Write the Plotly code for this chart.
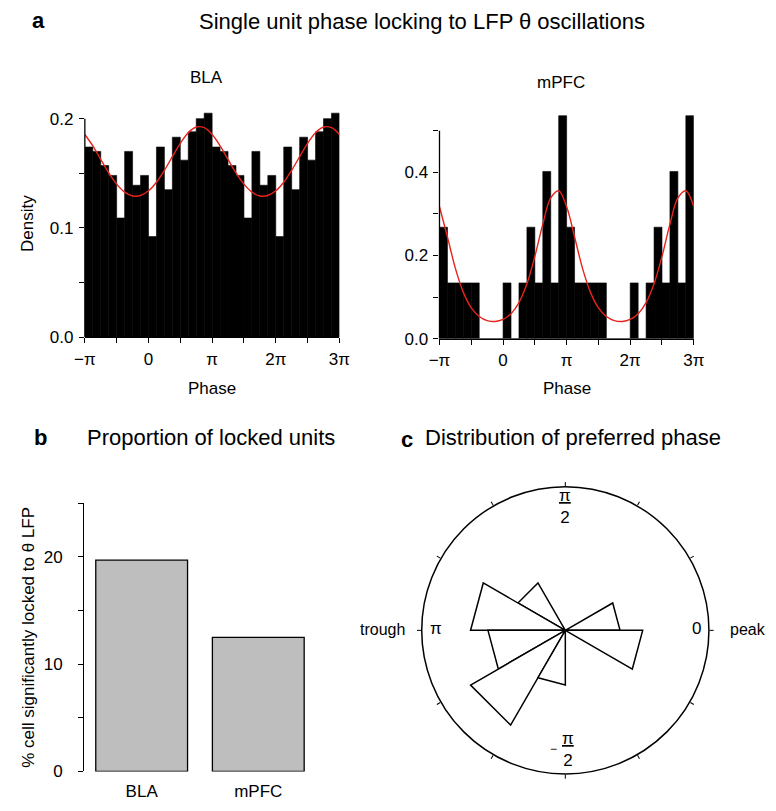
import numpy as np
import plotly.graph_objects as go

PI = np.pi
W, H = 776, 811

# ---------------- data ----------------
# panel a: phase histograms, one cycle of 16 bins (width pi/8) from -pi to pi
bla_density = [0.174, 0.170, 0.157, 0.148, 0.109, 0.170, 0.139, 0.148,
               0.092, 0.174, 0.135, 0.183, 0.162, 0.188, 0.200, 0.205]
mpfc_density = [0.268, 0.134, 0.134, 0.134, 0.134, 0.0, 0.0, 0.0,
                0.134, 0.0, 0.134, 0.268, 0.134, 0.402, 0.134, 0.536]
# fitted curves read every pi/8 starting at -pi (one cycle)
bla_fit = [0.1855, 0.1751, 0.1626, 0.1503, 0.1400, 0.1327, 0.1292, 0.1296,
           0.1339, 0.1418, 0.1527, 0.1652, 0.1774, 0.1871, 0.1923, 0.1917]
mpfc_fit = [0.3171, 0.2443, 0.1691, 0.1113, 0.0742, 0.0533, 0.0434, 0.0413,
            0.0463, 0.0601, 0.0868, 0.1319, 0.1978, 0.2754, 0.3384, 0.3556]
phase_tick_text = ["\u2212\u03c0", "", "0", "", "\u03c0", "", "2\u03c0", "", "3\u03c0"]
bla_ytick_vals = [0.0, 0.05, 0.1, 0.15, 0.2]
bla_ytick_text = ["0.0", "", "0.1", "", "0.2"]
mpfc_ytick_vals = [0.0, 0.1, 0.2, 0.3, 0.4, 0.5]
mpfc_ytick_text = ["0.0", "", "0.2", "", "0.4", ""]

# panel b: proportion of locked units
regions = ["BLA", "mPFC"]
pct_locked = [19.7, 12.5]
b_ytick_vals = [0, 5, 10, 15, 20, 25]
b_ytick_text = ["0", "", "10", "", "20", ""]

# panel c: preferred phase rose (30 degree bins starting at 0 deg)
pref_bin_start_deg = [0, 30, 60, 90, 120, 150, 180, 210, 240, 270, 300, 330]
pref_counts = [1, 0, 0, 0, 1, 3, 2, 4, 1, 0, 0, 2]

# ---------------- derived positions ----------------
bw = PI / 8
n_cycles = 2
n_bins = len(bla_density) * n_cycles
bin_centers = [-PI + (i + 0.5) * bw for i in range(n_bins)]
curve_x = [-PI + k * bw for k in range(n_bins + 1)]
bla_bars = bla_density * n_cycles
mpfc_bars = mpfc_density * n_cycles
bla_curve = bla_fit * n_cycles + [bla_fit[0]]
mpfc_curve = mpfc_fit * n_cycles + [mpfc_fit[0]]
phase_tick_vals = [-PI + k * PI / 2 for k in range(len(phase_tick_text))]


def px(x):
    return x / W


def py(y):
    return 1 - y / H


FONT = "Liberation Sans, Arial, Helvetica, sans-serif"
LW = 1.3

fig = go.Figure()

# BLA histogram
fig.add_trace(go.Bar(x=bin_centers, y=bla_bars, width=bw,
                     marker=dict(color="black", line=dict(color="black", width=0.6)),
                     xaxis="x", yaxis="y", hoverinfo="skip"))
fig.add_trace(go.Scatter(x=curve_x, y=bla_curve, mode="lines",
                         line=dict(color="#e8231c", width=1.4, shape="spline"),
                         xaxis="x", yaxis="y", hoverinfo="skip"))
# mPFC histogram
fig.add_trace(go.Bar(x=bin_centers, y=mpfc_bars, width=bw,
                     marker=dict(color="black", line=dict(color="black", width=0.6)),
                     xaxis="x2", yaxis="y2", hoverinfo="skip"))
fig.add_trace(go.Scatter(x=curve_x, y=mpfc_curve, mode="lines",
                         line=dict(color="#e8231c", width=1.4, shape="spline"),
                         xaxis="x2", yaxis="y2", hoverinfo="skip"))
# panel b bars
fig.add_trace(go.Bar(x=regions, y=pct_locked, width=0.787,
                     marker=dict(color="#bebebe", line=dict(color="black", width=LW)),
                     xaxis="x3", yaxis="y3", hoverinfo="skip"))

# panel c rose wedges (sqrt scaling = area proportional)
for start, cnt in zip(pref_bin_start_deg, pref_counts):
    if cnt == 0:
        continue
    r = float(np.sqrt(cnt))
    fig.add_trace(go.Scatterpolar(
        r=[0, r, r, 0], theta=[start, start, start + 30, start + 30],
        mode="lines", fill="toself", fillcolor="white",
        line=dict(color="black", width=1.5), subplot="polar", hoverinfo="skip"))

hist_x_common = dict(range=[-PI, 3 * PI], tickvals=phase_tick_vals, ticktext=phase_tick_text,
                     showline=True, linecolor="black", linewidth=LW, ticks="outside",
                     ticklen=5, tickwidth=LW, tickcolor="black", showgrid=False,
                     zeroline=False, tickfont=dict(size=17, color="black"),
                     ticklabelstandoff=1, fixedrange=True)
y_common = dict(showline=False, ticks="outside", ticklen=5, tickwidth=LW,
                tickcolor="black", showgrid=False, zeroline=False,
                tickfont=dict(size=17, color="black"), ticklabelstandoff=2, fixedrange=True)

fig.update_layout(
    width=W, height=H, margin=dict(l=0, r=0, t=0, b=0),
    paper_bgcolor="white", plot_bgcolor="rgba(0,0,0,0)", showlegend=False,
    font=dict(family=FONT, color="black", size=17),
    xaxis=dict(domain=[px(76), px(338)], anchor="y", **hist_x_common),
    yaxis=dict(domain=[py(340.7), py(111.5)], anchor="x", range=[0, 0.207],
               tickvals=bla_ytick_vals, ticktext=bla_ytick_text, **y_common),
    xaxis2=dict(domain=[px(441), px(702.7)], anchor="y2", **hist_x_common),
    yaxis2=dict(domain=[py(342.3), py(112.5)], anchor="x2", range=[0, 0.545],
                tickvals=mpfc_ytick_vals, ticktext=mpfc_ytick_text, **y_common),
    xaxis3=dict(domain=[px(75.3), px(330)], anchor="y3", range=[-0.493, 1.629],
                showline=False, ticks="", showgrid=False, zeroline=False,
                tickfont=dict(size=17, color="black"), ticklabelstandoff=8, fixedrange=True),
    yaxis3=dict(domain=[py(781), py(509.3)], anchor="x3", range=[0, 25],
                tickvals=b_ytick_vals, ticktext=b_ytick_text,
                **{**y_common, "showline": True, "linecolor": "black", "linewidth": LW,
                   "ticklabelstandoff": 12}),
    polar=dict(
        domain=dict(x=[px(422.7), px(718.3)], y=[py(785.5), py(490.5)]),
        bgcolor="white",
        radialaxis=dict(visible=False, range=[0, 2.625]),
        angularaxis=dict(rotation=0, direction="counterclockwise", showgrid=False,
                         showline=True, linecolor="black", linewidth=1.5,
                         ticks="outside", ticklen=4, tickwidth=LW, tickcolor="black",
                         tick0=0, dtick=30, showticklabels=False),
    ),
)

# y axis lines that stop at the last tick (R style)
fig.add_shape(type="line", xref="x domain", x0=0, x1=0, yref="y",
              y0=bla_ytick_vals[0], y1=bla_ytick_vals[-1], line=dict(color="black", width=LW))
fig.add_shape(type="line", xref="x2 domain", x0=0, x1=0, yref="y2",
              y0=mpfc_ytick_vals[0], y1=mpfc_ytick_vals[-1], line=dict(color="black", width=LW))


def ann(text, x, y, size=17, xanchor="center", yanchor="middle", textangle=0, bold=False):
    if bold:
        text = "<b>" + text + "</b>"
    fig.add_annotation(text=text, x=px(x), y=py(y), xref="paper", yref="paper",
                       showarrow=False, xanchor=xanchor, yanchor=yanchor,
                       textangle=textangle, borderpad=0,
                       font=dict(size=size, family=FONT, color="black"))


# titles
ann("a", 28, 20, size=22, bold=True)
ann("Single unit phase locking to LFP \u03b8 oscillations", 423, 21, size=22)
ann("BLA", 201, 78)
ann("mPFC", 566, 83)
ann("Density", 17.5, 226, textangle=-90)
ann("Phase", 207, 393)
ann("Phase", 572, 393)
ann("b", 30, 442, size=22, bold=True)
ann("Proportion of locked units", 77, 443, size=22, xanchor="left")
ann("c", 408, 445, size=22, bold=True)
ann("Distribution of preferred phase", 425, 443, size=22, xanchor="left")
ann("% cell significantly locked to \u03b8 LFP", 18, 645, textangle=-90)

# polar labels
ann("trough", 407, 637, size=16, xanchor="right")
ann("peak", 739, 637, size=16, xanchor="left")
ann("\u03c0", 437, 636, size=17)
ann("0", 706, 636, size=17)
ann("<u>\u03c0</u><br>2", 570, 512, size=17)
ann("<u>\u03c0</u><br>2", 573, 759, size=17)
ann("\u2212", 558, 758, size=12)

# remove the default 8px page margin so the figure fills the window exactly
fig.write_html("out.html",
               config={"displayModeBar": False},
               post_script="document.body.style.margin='0';"
                           "document.body.style.overflow='hidden';")
